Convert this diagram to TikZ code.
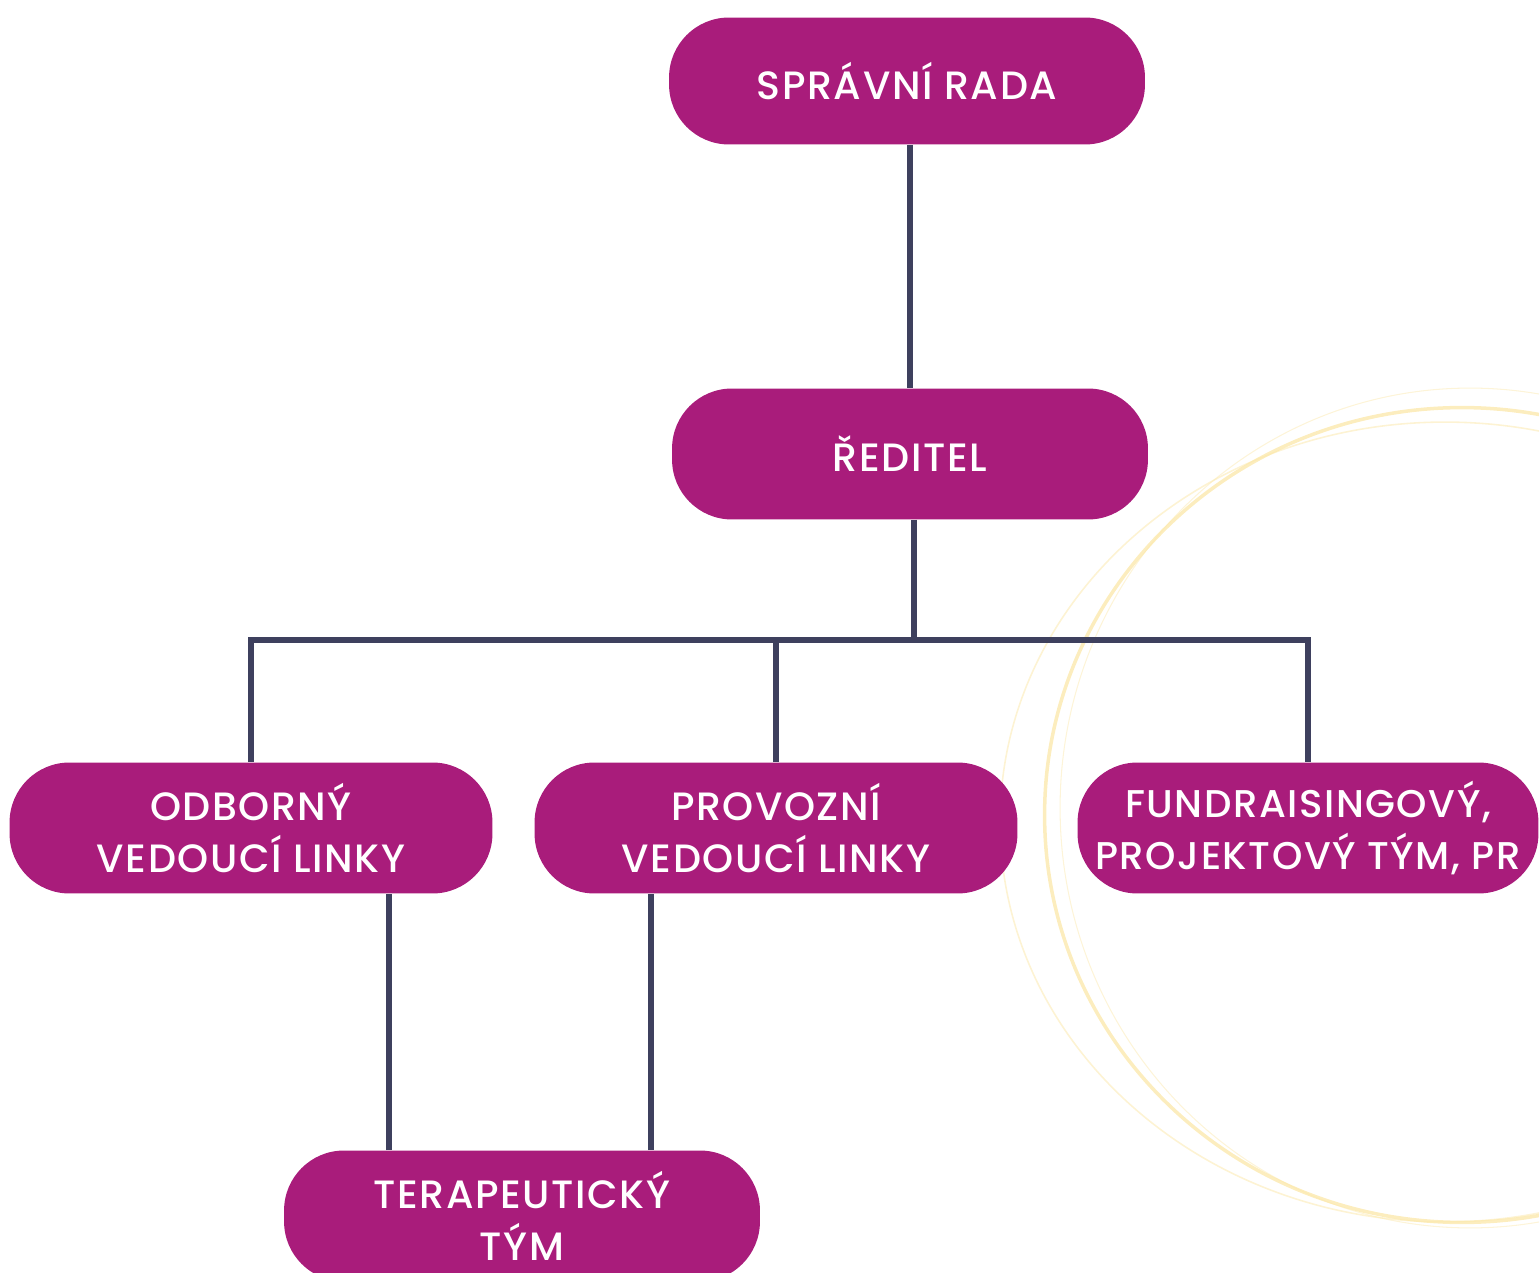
\documentclass[tikz,border=0pt]{standalone}
\usepackage{fontspec}
\setmainfont{Poppins}[UprightFont=* Medium,LetterSpace=4]
\usetikzlibrary{positioning}
\definecolor{plum}{HTML}{A91C7B}
\definecolor{slate}{HTML}{3E405E}
\definecolor{sand}{HTML}{FBE7A8}

\begin{document}
\begin{tikzpicture}[x=0.02cm,y=-0.02cm]
\tikzstyle{box}=[rectangle,rounded corners=1.2cm,fill=plum,text=white,
inner sep=2pt,minimum width=9.52cm,minimum height=2.62cm,align=center,
font=\fontsize{22.5}{30}\selectfont]
\tikzstyle{link}=[draw=slate,line width=3.4pt]
\clip (0,0) rectangle (1539,1273);

% brush circle behind the chart
\draw[sand,line width=2pt,opacity=.75] (1462,815) ellipse [x radius=8.35cm,y radius=8.15cm];
\draw[sand,line width=0.9pt,opacity=.5] (1445,822) ellipse [x radius=8.9cm,y radius=8.0cm];
\draw[sand,line width=0.6pt,opacity=.45] (1470,808) ellipse [x radius=8.2cm,y radius=8.4cm];

\node[box,minimum height=2.54cm] at (907,81) (rada) {SPRÁVNÍ RADA};
\node[box] at (910,454) (red) {ŘEDITEL};
\node[box,minimum width=9.66cm] at (251,828) (odb) {ODBORNÝ\\VEDOUCÍ LINKY};
\node[box,minimum width=9.66cm] at (776,828) (prov) {PROVOZNÍ\\VEDOUCÍ LINKY};
\node[box,minimum width=9.22cm,font=\fontsize{22}{30}\selectfont] at (1308,828) (fund) {FUNDRAISINGOVÝ,\\PROJEKTOVÝ TÝM, PR};
\node[box] at (522,1216) (ter) {TERAPEUTICKÝ\\TÝM};

\coordinate (bus) at (914,640);

\draw[link] (rada.south -| red.north) -- (red.north);
\draw[link] ([xshift=0.08cm]red.south) -- ([xshift=0.08cm]red.south |- bus);
\draw[link] (odb.north) |- (bus -| fund.north) -- (fund.north);
\draw[link] (prov.north) -- (prov.north |- bus);
\draw[link] ([xshift=-2.66cm]ter.north) -- ([xshift=-2.66cm]ter.north |- odb.south);
\draw[link] ([xshift=2.58cm]ter.north) -- ([xshift=2.58cm]ter.north |- prov.south);

\end{tikzpicture}
\end{document}
